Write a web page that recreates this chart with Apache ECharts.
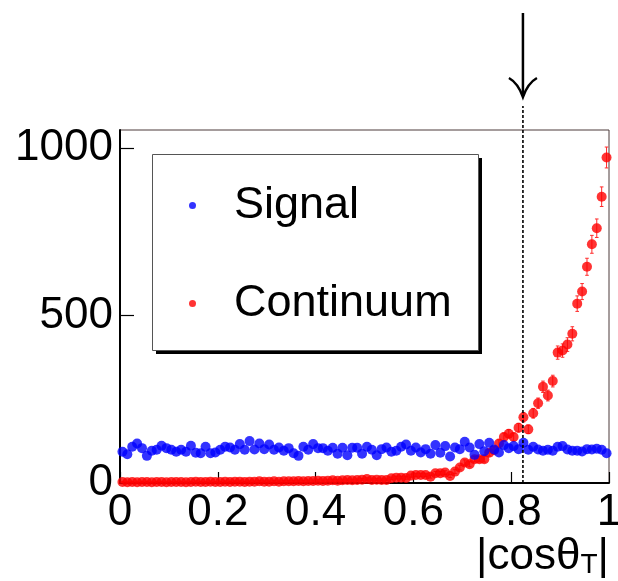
<!DOCTYPE html>
<html><head><meta charset="utf-8">
<script src="https://cdn.jsdelivr.net/npm/echarts@6/dist/echarts.min.js"></script>
<style>html,body{margin:0;padding:0;background:#fff}#c{width:618px;height:581px}</style>
</head><body><div id="c"></div>
<script>
// bin centres of |cos theta_T| (100 bins, width 0.01)
const binCenters = [
0.005,0.015,0.025,0.035,0.045,0.055,0.065,0.075,0.085,0.095,
0.105,0.115,0.125,0.135,0.145,0.155,0.165,0.175,0.185,0.195,
0.205,0.215,0.225,0.235,0.245,0.255,0.265,0.275,0.285,0.295,
0.305,0.315,0.325,0.335,0.345,0.355,0.365,0.375,0.385,0.395,
0.405,0.415,0.425,0.435,0.445,0.455,0.465,0.475,0.485,0.495,
0.505,0.515,0.525,0.535,0.545,0.555,0.565,0.575,0.585,0.595,
0.605,0.615,0.625,0.635,0.645,0.655,0.665,0.675,0.685,0.695,
0.705,0.715,0.725,0.735,0.745,0.755,0.765,0.775,0.785,0.795,
0.805,0.815,0.825,0.835,0.845,0.855,0.865,0.875,0.885,0.895,
0.905,0.915,0.925,0.935,0.945,0.955,0.965,0.975,0.985,0.995];
const signalCounts = [
93,86,108,118,104,81,96,99,111,104,
99,93,99,93,111,90,89,108,89,91,
99,108,106,99,116,99,125,100,118,101,
115,99,106,96,104,89,81,108,99,116,
104,104,96,105,87,105,83,105,105,87,
108,99,83,101,106,93,96,108,115,96,
106,91,101,87,113,90,110,79,106,101,
123,106,84,116,95,120,100,91,113,104,
110,101,120,99,108,100,96,99,96,108,
110,100,96,96,94,101,100,102,99,89];
const continuumCounts = [
3,2,3,2,3,3,2,3,3,2,
3,3,3,2,3,4,3,3,4,3,
3,4,3,4,4,3,4,4,5,4,
4,5,4,5,5,5,6,5,6,6,
7,6,7,8,7,8,9,8,9,10,
12,9,10,9,9,14,16,16,15,22,
24,24,24,19,29,29,31,21,34,46,
61,56,71,71,71,90,98,118,137,147,
137,165,196,160,208,238,287,261,304,389,
395,413,445,535,571,645,712,760,854,971];
const xTickValues = [0, 0.2, 0.4, 0.6, 0.8, 1];
const yTickValues = [0, 500, 1000];
const seriesNames = ['Signal', 'Continuum'];
const cutValue = 0.824;
const yMax = 1053;
const xTitle = '|cos\u03b8{sub|T}|';

const FONT = 'Liberation Sans, Arial, Helvetica, sans-serif';
const chart = echarts.init(document.getElementById('c'), null, {renderer: 'canvas'});

const option = {
  animation: false,
  backgroundColor: '#fff',
  grid: {left: 120, right: 9, top: 130, bottom: 98, show: true, borderColor: '#4d3b3b', borderWidth: 1,
         backgroundColor: 'transparent', containLabel: false, outerBoundsMode: 'none'},
  xAxis: {
    type: 'value', min: 0, max: 1, interval: 0.2,
    axisLine: {show: true, onZero: false, lineStyle: {color: '#000', width: 2}},
    axisTick: {show: true, inside: true, length: 11, lineStyle: {color: '#000', width: 1.2}},
    splitLine: {show: false},
    axisLabel: {show: true, margin: 8, fontSize: 44, color: '#000', fontFamily: FONT,
                showMinLabel: true, showMaxLabel: true, customValues: xTickValues,
                formatter: function (v) { return String(v); }},
    name: xTitle, nameLocation: 'end', nameGap: 0,
    nameTextStyle: {fontSize: 44, color: '#000', fontFamily: FONT, align: 'right', verticalAlign: 'top',
                    padding: [52, 0, 0, 0],
                    rich: {sub: {fontSize: 28, lineHeight: 16, verticalAlign: 'bottom', color: '#000', fontFamily: FONT}}}
  },
  yAxis: {
    type: 'value', min: 0, max: yMax,
    axisLine: {show: true, onZero: false, lineStyle: {color: '#000', width: 2}},
    axisTick: {show: true, inside: true, length: 14, lineStyle: {color: '#000', width: 1.2}, customValues: yTickValues},
    splitLine: {show: false},
    axisLabel: {show: true, margin: 7, fontSize: 44, color: '#000', fontFamily: FONT, customValues: yTickValues,
                formatter: function (v) { return String(v); }}
  },
  legend: {
    show: true, orient: 'vertical', left: 152, top: 154,
    padding: [29, 25, 22, 37], itemGap: 53, itemWidth: 7, itemHeight: 7,
    selectedMode: false, backgroundColor: 'transparent', borderWidth: 0,
    textStyle: {fontSize: 45, color: '#000', fontFamily: FONT, padding: [0, 0, 0, 33]},
    data: [{name: seriesNames[0], icon: 'circle'}, {name: seriesNames[1], icon: 'circle'}]
  },
  graphic: [
    {type: 'rect', left: 156, top: 158, z: 3, silent: true, shape: {width: 326, height: 196}, style: {fill: '#000'}},
    {type: 'rect', left: 152, top: 154, z: 3, silent: true, shape: {width: 326, height: 196}, style: {fill: '#fff', stroke: '#555', lineWidth: 1}}
  ],
  series: [
    {
      type: 'custom', name: 'Continuum errors', silent: true, z: 1,
      encode: {x: 0, y: 1},
      data: continuumCounts.map((v, i) => [binCenters[i], v, Math.sqrt(v)]),
      renderItem: function (params, api) {
        const x = api.value(0), y = api.value(1), e = api.value(2);
        const t = api.coord([x, y + e]);
        const b = api.coord([x, Math.max(0, y - e)]);
        const cap = 1.8;
        const st = {stroke: '#ff2a2a', lineWidth: 1};
        return {type: 'group', children: [
          {type: 'line', shape: {x1: t[0], y1: t[1], x2: b[0], y2: b[1]}, style: st},
          {type: 'line', shape: {x1: t[0] - cap, y1: t[1], x2: t[0] + cap, y2: t[1]}, style: st},
          {type: 'line', shape: {x1: b[0] - cap, y1: b[1], x2: b[0] + cap, y2: b[1]}, style: st}
        ]};
      }
    },
    {
      type: 'scatter', name: seriesNames[1], symbol: 'circle', symbolSize: 10, z: 2,
      itemStyle: {color: '#ff0000'},
      data: continuumCounts.map((v, i) => [binCenters[i], v])
    },
    {
      type: 'scatter', name: seriesNames[0], symbol: 'circle', symbolSize: 10, z: 3,
      itemStyle: {color: '#0000ff'},
      data: signalCounts.map((v, i) => [binCenters[i], v])
    },
    {
      type: 'custom', name: 'cut', silent: true, clip: false, z: 10,
      encode: {x: 0, y: 1},
      data: [[cutValue, 0]],
      renderItem: function (params, api) {
        const x = api.coord([api.value(0), 0])[0];
        const cs = params.coordSys;
        const yt = cs.y, yb = cs.y + cs.height;
        return {type: 'group', children: [
          {type: 'line', shape: {x1: x, y1: yb, x2: x, y2: yt - 24}, style: {stroke: '#000', lineWidth: 1.6, lineDash: [3, 2]}},
          {type: 'line', shape: {x1: x, y1: yt - 117, x2: x, y2: yt - 34}, style: {stroke: '#000', lineWidth: 2.5}},
          {type: 'path', shape: {pathData: 'M' + (x - 14) + ' ' + (yt - 52) + ' Q' + (x - 5) + ' ' + (yt - 47) + ' ' + x + ' ' + (yt - 33) +
                                           ' Q' + (x + 5) + ' ' + (yt - 47) + ' ' + (x + 14) + ' ' + (yt - 52)},
           style: {stroke: '#000', fill: null, lineWidth: 2.5}}
        ]};
      }
    }
  ]
};
chart.setOption(option);
</script>
</body></html>
